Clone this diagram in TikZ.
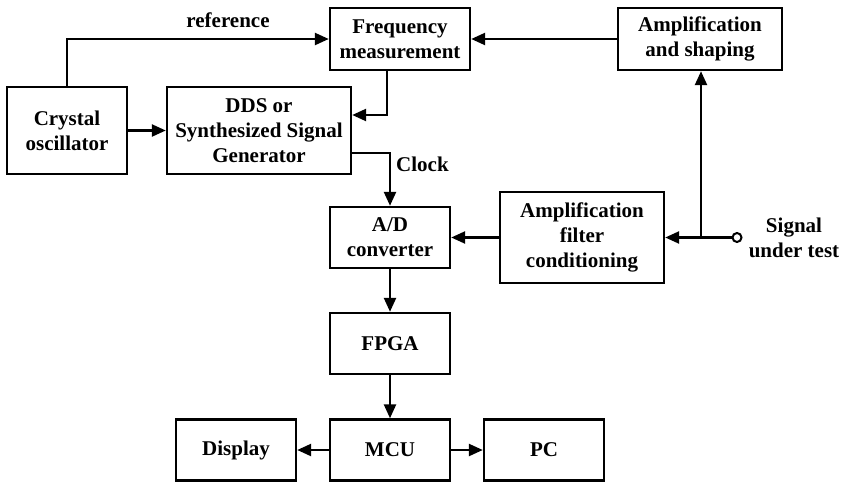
\documentclass[tikz,border=0pt]{standalone}
\usepackage{fontspec}
\setmainfont{Liberation Serif}
\usetikzlibrary{arrows.meta,calc}
\begin{document}
\begin{tikzpicture}[x=1pt,y=-1pt,
  every node/.style={font=\bfseries\fontsize{21}{25}\selectfont, align=center, inner sep=0pt},
  blk/.style={draw, line width=2.4pt, minimum width=#1, minimum height=61pt},
  blk/.default=120pt,
  conn/.style={line width=2.4pt, -{Triangle[length=14pt,width=12pt]}},
  wire/.style={line width=2.4pt}]
  \useasboundingbox (0,0) rectangle (841,482);

  % upper row
  \node[blk, minimum height=87pt] (crys) at (67,130.5) {Crystal\\oscillator};
  \node[blk=184pt, minimum height=87pt] (dds) at (259,130.5) {DDS or\\Synthesized Signal\\Generator};
  \node[blk=140pt, minimum height=62pt] (freq) at (400,39) {Frequency\\measurement};
  \node[blk=164pt, minimum height=62pt] (amps) at (700,39) {Amplification\\and shaping};

  % acquisition chain
  \node[blk] (ad) at (390,237.5) {A/D\\converter};
  \node[blk=164pt, minimum height=91pt] (af) at (582,237.5) {Amplification\\filter\\conditioning};
  \node[blk] (fpga) at (390,343.5) {FPGA};
  \node[blk] (mcu) at (390,450) {MCU};
  \node[blk] (disp) at (236,450) {Display};
  \node[blk] (pc) at (544,450) {PC};

  % input terminal
  \node[draw, circle, line width=2pt, minimum size=9pt] (sig) at (737,237.5) {};
  \node (sigtxt) at (794,237.5) {Signal\\under test};
  \coordinate (j) at (701,237.5);

  % connectors
  \draw[conn] (crys.north) |- (freq.west);
  \node (reftxt) at (228,20) {reference};
  \draw[conn] ([xshift=-13pt]freq.south) |- ([yshift=15.5pt]dds.east);
  \draw[conn] (crys.east) -- (dds.west);
  \draw[conn] ([yshift=-22.5pt]dds.east) -| (ad.north);
  \node[anchor=west] (clk) at (396,164) {Clock};
  \draw[conn] (amps.west) -- (freq.east);
  \draw[conn] (sig.west) -- (af.east);
  \draw[conn] (j) -- (j |- amps.south);
  \draw[conn] (af.west) -- (ad.east);
  \draw[conn] (ad.south) -- (fpga.north);
  \draw[conn] (fpga.south) -- (mcu.north);
  \draw[conn] (mcu.west) -- (disp.east);
  \draw[conn] (mcu.east) -- (pc.west);
\end{tikzpicture}
\end{document}
